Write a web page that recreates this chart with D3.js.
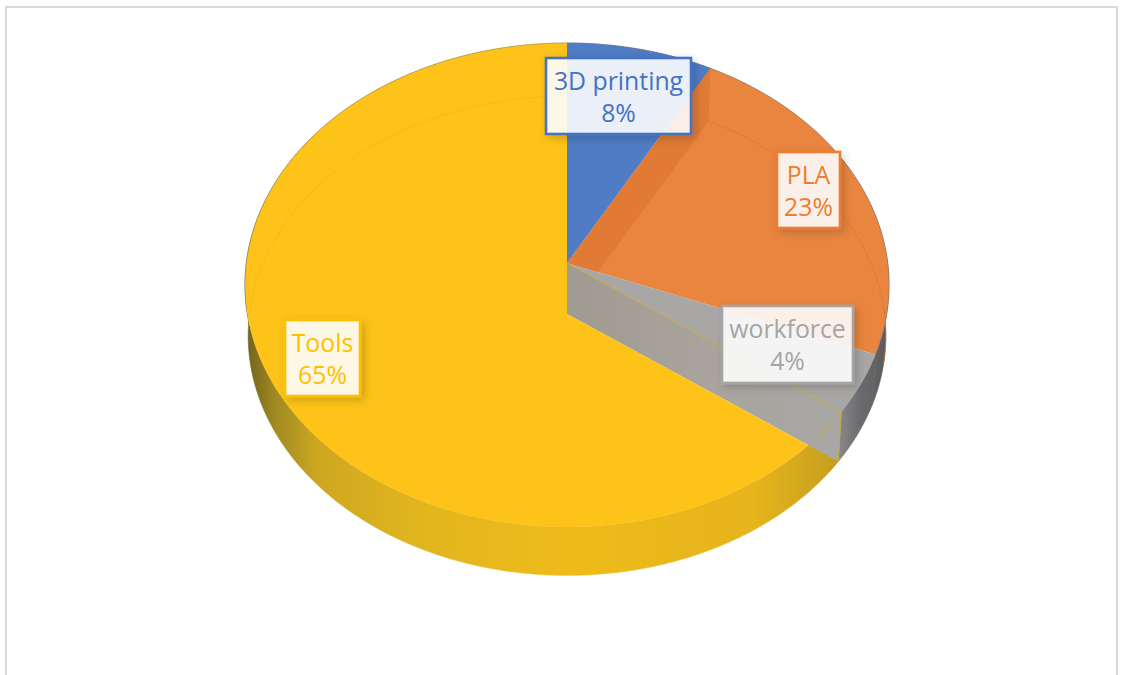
<!DOCTYPE html>
<html>
<head>
<meta charset="utf-8">
<script src="https://cdn.jsdelivr.net/npm/d3@7"></script>
<style>
  html, body { margin: 0; padding: 0; background: #fff; overflow: hidden; }
  svg { display: block; }
</style>
</head>
<body>
<script>
// Cost breakdown
const categories = ["3D printing", "PLA", "workforce", "Tools"];
const shares = [8, 23, 4, 65];
const faceColors = ["#4f7cc4", "#e9853f", "#a5a19b", "#fdc318"];
const labelColors = ["#4472c4", "#ed7d31", "#a5a5a5", "#ffc000"];

// Disc geometry: a circle seen in perspective, with a lower copy for the base.
const W = 1125, H = 675;
const cx = 567, apexY = 263, drop = 51, baseScale = 0.99;
const persp = 0.0909, radX = 320.7, radY = 240;

function project(angle, r = 1, lower = false) {
  const u = r * Math.sin(angle), v = r * Math.cos(angle), w = 1 + persp * v;
  const s = lower ? baseScale : 1;
  return [cx + s * radX * u / w, apexY + (lower ? drop : 0) - s * radY * v / w];
}
const apexTop = [cx, apexY], apexBase = [cx, apexY + drop];

const samples = (a0, a1) => {
  const n = Math.max(2, Math.ceil(Math.abs(a1 - a0) / 0.01));
  return d3.range(n + 1).map(i => a0 + (a1 - a0) * i / n);
};
const arcPts = (a0, a1, r, lower) => samples(a0, a1).map(a => project(a, r, lower));
const line = d3.line();
const closed = pts => line(pts) + "Z";

const slices = d3.pie().sort(null)(shares);

const svg = d3.select("body").append("svg").attr("width", W).attr("height", H);
const defs = svg.append("defs");

function hGradient(id, x1, x2, stops) {
  const g = defs.append("linearGradient").attr("id", id)
    .attr("gradientUnits", "userSpaceOnUse")
    .attr("x1", x1).attr("x2", x2).attr("y1", 0).attr("y2", 0);
  stops.forEach(([o, c]) => g.append("stop").attr("offset", o).attr("stop-color", c));
}
hGradient("wallTools", 245, 845, [
  [0, "#6f5f1e"], [0.05, "#a08a20"], [0.12, "#cda720"], [0.3, "#e3b61e"],
  [0.55, "#eebb1a"], [0.85, "#e6b41c"], [1, "#c29c20"]
]);
hGradient("wallSide", 835, 885, [[0, "#8e8e90"], [0.5, "#6c6c70"], [1, "#5c5a5c"]]);
hGradient("wallPrint", 567, 760, [[0, "#3d65a5"], [1, "#3d65a5"]]);
hGradient("innerWorkforce", 567, 845, [[0, "#a09b90"], [0.5, "#a8a49d"], [1, "#a9a8a6"]]);

const shadow = defs.append("filter").attr("id", "boxShadow")
  .attr("x", "-20%").attr("y", "-20%").attr("width", "150%").attr("height", "150%");
shadow.append("feDropShadow").attr("dx", 3).attr("dy", 3).attr("stdDeviation", 4)
  .attr("flood-color", "#000").attr("flood-opacity", 0.2);

defs.append("clipPath").attr("id", "topDisc").append("path")
  .attr("d", closed(arcPts(0, 2 * Math.PI, 1, false)));
defs.append("clipPath").attr("id", "plaFace").append("path")
  .attr("d", closed([apexTop, ...arcPts(slices[1].startAngle, slices[1].endAngle, 1, false)]));

// Chart area frame, open along the bottom
svg.append("path")
  .attr("d", line([[6, H], [6, 7], [1117, 7], [1117, H]]))
  .attr("fill", "none").attr("stroke", "#d9d9d9").attr("stroke-width", 2);

// Rim walls, from the top edge down to the base edge
const wallFills = ["url(#wallPrint)", "url(#wallSide)", "url(#wallSide)", "url(#wallTools)"];
svg.append("g").selectAll("path").data(slices).join("path")
  .attr("d", d => closed([
    ...arcPts(d.startAngle, d.endAngle, 1, false),
    ...arcPts(d.endAngle, d.startAngle, 1, true)
  ]))
  .attr("fill", (d, i) => wallFills[i])
  .attr("stroke", (d, i) => wallFills[i]).attr("stroke-width", 0.6);

const [print, pla, workforce, tools] = slices;
const faces = svg.append("g");

// Flat wedges of the back slices
faces.append("path")
  .attr("d", closed([apexTop, ...arcPts(pla.startAngle, pla.endAngle, 1, false)]))
  .attr("fill", faceColors[1]);
faces.append("path")
  .attr("d", closed([apexTop, ...arcPts(print.startAngle, print.endAngle, 1, false)]))
  .attr("fill", faceColors[0]);

// Cut face between the first two slices, showing through the PLA wedge
faces.append("path")
  .attr("clip-path", "url(#plaFace)")
  .attr("d", closed([apexTop, project(pla.startAngle), project(pla.startAngle, 1, true), apexBase]))
  .attr("fill", "#e07a35");

// Workforce wedge and its cut face above the Tools slice
faces.append("path")
  .attr("d", closed([apexTop, apexBase, project(tools.startAngle, 1, true), project(tools.startAngle)]))
  .attr("fill", "url(#innerWorkforce)");
faces.append("path")
  .attr("d", closed([apexTop, ...arcPts(workforce.startAngle, workforce.endAngle, 1, false)]))
  .attr("fill", "#a8a7a6");

// Tools face: its front edge follows the base-level radius, trimmed to the disc
faces.append("path")
  .attr("clip-path", "url(#topDisc)")
  .attr("d", closed([
    apexTop, apexBase, project(tools.startAngle, 1, true),
    ...arcPts(tools.startAngle, tools.endAngle, 1.4, false)
  ]))
  .attr("fill", faceColors[3]);

// Faint outlines of the Tools slice seen through the workforce slice
const toolsLines = [
  [apexTop, project(tools.startAngle)],
  [project(tools.startAngle), project(tools.startAngle, 1, true)],
  arcPts(tools.startAngle, tools.startAngle + 0.12, 1, false)
];
faces.append("g").selectAll("path").data(toolsLines).join("path")
  .attr("d", d => line(d)).attr("fill", "none")
  .attr("stroke", "#c9ab3a").attr("stroke-width", 1);

// Far edge of the base, faintly visible through the top of each slice
const backArcs = [
  { a0: pla.startAngle, a1: Math.PI / 2 + 0.2, c: "#d9722c" },
  { a0: 1.5 * Math.PI, a1: 2 * Math.PI, c: "#eeb516" }
];
faces.append("g").selectAll("path").data(backArcs).join("path")
  .attr("d", d => line(arcPts(d.a0, d.a1, 1, true))).attr("fill", "none")
  .attr("stroke", d => d.c).attr("stroke-width", 1).attr("stroke-opacity", 0.6);

// Thin rim highlight around the disc
faces.append("path")
  .attr("d", line(arcPts(-Math.PI * 0.56, Math.PI * 0.62, 1, false)))
  .attr("fill", "none").attr("stroke", "#7f7f7f").attr("stroke-opacity", 0.45).attr("stroke-width", 1);

// Data labels
const labelBoxes = [
  { x: 546, y: 58, w: 145, h: 76 },
  { x: 777, y: 152, w: 63, h: 76 },
  { x: 722, y: 306, w: 131, h: 77 },
  { x: 285, y: 320, w: 75, h: 76 }
];
const labels = svg.append("g").selectAll("g").data(categories).join("g")
  .attr("transform", (d, i) => `translate(${labelBoxes[i].x},${labelBoxes[i].y})`);
labels.append("rect")
  .attr("width", (d, i) => labelBoxes[i].w).attr("height", (d, i) => labelBoxes[i].h)
  .attr("fill", "#fff").attr("fill-opacity", 0.88)
  .attr("stroke", (d, i) => labelColors[i]).attr("stroke-width", 2.6)
  .attr("filter", "url(#boxShadow)");
const text = labels.append("text")
  .attr("text-anchor", "middle")
  .attr("font-family", "'Open Sans', 'Noto Sans', sans-serif")
  .attr("font-size", 24.8)
  .attr("fill", (d, i) => labelColors[i]);
text.append("tspan")
  .attr("x", (d, i) => labelBoxes[i].w / 2).attr("y", 32)
  .text(d => d);
text.append("tspan")
  .attr("x", (d, i) => labelBoxes[i].w / 2).attr("y", 64)
  .text((d, i) => shares[i] + "%");
</script>
</body>
</html>
